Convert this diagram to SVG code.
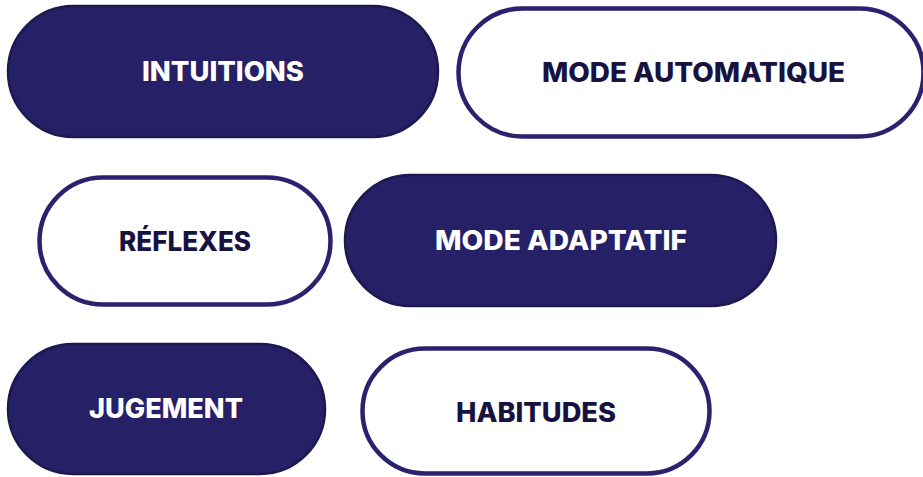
<svg xmlns="http://www.w3.org/2000/svg" width="923" height="477" viewBox="0 0 923 477">
  <style>
    .filled rect { fill: #262066; stroke: #1d1850; stroke-width: 2.5; }
    .outline rect { fill: #ffffff; stroke: #29226e; stroke-width: 4.5; }
    text { font-family: "Inter", "Liberation Sans", sans-serif; font-weight: 800; font-size: 26.5px; text-anchor: middle; }
    .filled text { fill: #ffffff; }
    .outline text { fill: #17123f; }
  </style>
  <rect width="923" height="477" fill="#ffffff"/>
  <g id="intuitions" class="filled">
    <rect x="8" y="6" width="430" height="131" rx="65.5"/>
    <text x="223" y="81" textLength="162" lengthAdjust="spacingAndGlyphs">INTUITIONS</text>
  </g>
  <g id="mode-automatique" class="outline">
    <rect x="458.5" y="8.5" width="465" height="128" rx="64"/>
    <text x="693.5" y="82" textLength="303" lengthAdjust="spacingAndGlyphs">MODE AUTOMATIQUE</text>
  </g>
  <g id="reflexes" class="outline">
    <rect x="39.5" y="177.5" width="291" height="127" rx="63.5"/>
    <text x="185" y="251" textLength="132" lengthAdjust="spacingAndGlyphs">RÉFLEXES</text>
  </g>
  <g id="mode-adaptatif" class="filled">
    <rect x="345" y="175" width="431" height="131" rx="65.5"/>
    <text x="561" y="250" textLength="252" lengthAdjust="spacingAndGlyphs">MODE ADAPTATIF</text>
  </g>
  <g id="jugement" class="filled">
    <rect x="8" y="344" width="317" height="130" rx="65"/>
    <text x="166" y="418" textLength="154" lengthAdjust="spacingAndGlyphs">JUGEMENT</text>
  </g>
  <g id="habitudes" class="outline">
    <rect x="362.5" y="348.5" width="347" height="125" rx="62.5"/>
    <text x="536" y="422" textLength="160" lengthAdjust="spacingAndGlyphs">HABITUDES</text>
  </g>
  <g id="connectors"></g>
</svg>
